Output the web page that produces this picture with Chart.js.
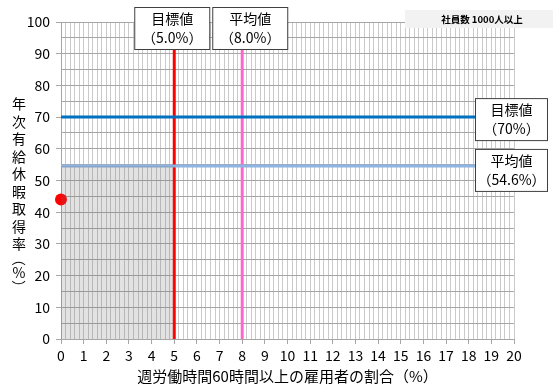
<!DOCTYPE html>
<html>
<head>
<meta charset="utf-8">
<script src="https://cdn.jsdelivr.net/npm/chart.js@4.4.0/dist/chart.umd.min.js"></script>
<style>
  body { margin: 0; background: #fff; }
  #wrap { width: 554px; height: 385px; position: relative; }
</style>
</head>
<body>
<div id="wrap"><canvas id="grafico"></canvas></div>
<script>
// 値
const xRange = [0, 20];
const yRange = [0, 100];
const lineasX = [5.0, 8.0];          // 目標値, 平均値 (週60時間以上の割合)
const lineasY = [70, 54.6];          // 目標値, 平均値 (有給取得率)
const puntoX = [0];
const puntoY = [44];
const etiquetasX = [['目標値', '（5.0%）'], ['平均値', '（8.0%）']];
const etiquetasY = [['目標値', '（70%）'], ['平均値', '（54.6%）']];
const tituloX = '週労働時間60時間以上の雇用者の割合（%）';
const tituloY = ['年', '次', '有', '給', '休', '暇', '取', '得', '率', '（', '%', '）'];
const nota = '社員数 1000人以上';

const fuente = '"Noto Sans CJK JP", "Noto Sans", sans-serif';
const esEntero = v => Math.abs(v - Math.round(v)) < 1e-6;

// Dibujar titulos y cuadros
const extras = {
  id: 'extras',
  afterDraw(chart) {
    const ctx = chart.ctx;
    const x = chart.scales.x, y = chart.scales.y;
    ctx.save();

    // titulo eje Y (vertical)
    ctx.fillStyle = '#000';
    ctx.font = '14px ' + fuente;
    ctx.textAlign = 'center';
    ctx.textBaseline = 'middle';
    tituloY.forEach((c, i) => {
      let py = i < 9 ? 104 + i * 17.5 : 259 + (i - 9) * 14;
      if (c === '（' || c === '）') {
        ctx.save();
        ctx.translate(19, py);
        ctx.rotate(Math.PI / 2);
        ctx.fillText(c, 0, 0);
        ctx.restore();
      } else {
        ctx.fillText(c, 19, py);
      }
    });

    // titulo eje X
    ctx.font = '15px ' + fuente;
    ctx.fillText(tituloX, (x.left + x.right) / 2, 376);

    // cuadros
    function cuadro(l, t, w, h, lineas, dy) {
      ctx.fillStyle = '#fff';
      ctx.fillRect(l, t, w, h);
      ctx.strokeStyle = '#404040';
      ctx.lineWidth = 1;
      ctx.strokeRect(l + 0.5, t + 0.5, w, h);
      ctx.fillStyle = '#000';
      ctx.font = '14px ' + fuente;
      ctx.fillText(lineas[0], l + w / 2 + 0.5, t + h / 2 - dy);
      ctx.fillText(lineas[1], l + w / 2 + 0.5, t + h / 2 + dy);
    }
    const px0 = x.getPixelForValue(lineasX[0]);
    cuadro(px0 - 40, 7, 75, 42, etiquetasX[0], 9.5);
    cuadro(px0 + 38, 7, 75, 42, etiquetasX[1], 9.5);
    lineasY.forEach((v, i) => {
      const py = y.getPixelForValue(v);
      cuadro(475, py - 19 + i * 2, 72, 42, etiquetasY[i], 9.5);
    });

    // nota
    ctx.fillStyle = '#f2f2f2';
    ctx.fillRect(405, 10, 148, 18);
    ctx.fillStyle = '#000';
    ctx.font = 'bold 9.5px ' + fuente;
    ctx.fillText(nota, 482, 19.5);
    ctx.restore();
  }
};

const datasets = [];
// zona sombreada (hasta el 目標値 X y el 平均値 Y)
datasets.push({
  data: [{ x: xRange[0], y: lineasY[1] }, { x: lineasX[0], y: lineasY[1] }],
  showLine: true, borderWidth: 0, pointRadius: 0,
  fill: 'origin', backgroundColor: 'rgba(110,110,110,0.2)'
});
// lineas horizontales
const coloresY = ['#0070c0', '#8db4e2'];
lineasY.forEach((v, i) => datasets.push({
  data: [{ x: xRange[0], y: v }, { x: xRange[1], y: v }],
  showLine: true, borderColor: coloresY[i], borderWidth: 3, pointRadius: 0, fill: false
}));
// lineas verticales
const coloresX = ['#ff0000', '#ff66cc'];
lineasX.forEach((v, i) => datasets.push({
  data: [{ x: v, y: yRange[0] }, { x: v, y: yRange[1] }],
  showLine: true, borderColor: coloresX[i], borderWidth: 3, pointRadius: 0, fill: false
}));
// punto
datasets.push({
  data: puntoX.map((v, i) => ({ x: v, y: puntoY[i] })),
  pointRadius: 6, pointBackgroundColor: '#ff0000', pointBorderWidth: 0, clip: false
});

new Chart(document.getElementById('grafico'), {
  type: 'scatter',
  data: { datasets },
  plugins: [extras],
  options: {
    responsive: true,
    maintainAspectRatio: false,
    animation: false,
    layout: { padding: { top: 22, right: 40, left: 0, bottom: 0 } },
    plugins: { legend: { display: false }, tooltip: { enabled: false } },
    scales: {
      x: {
        type: 'linear', min: xRange[0], max: xRange[1],
        afterFit: s => { s.height = 46; },
        border: { color: '#a6a6a6' },
        grid: {
          color: '#cacaca', lineWidth: 1, tickLength: 5,
          tickColor: c => esEntero(c.tick.value) ? '#a6a6a6' : 'rgba(0,0,0,0)'
        },
        ticks: {
          stepSize: 0.2, autoSkip: false, maxRotation: 0, padding: 3,
          color: '#000', font: { family: fuente, size: 14 },
          callback: v => esEntero(v) ? String(Math.round(v)) : ''
        }
      },
      y: {
        type: 'linear', min: yRange[0], max: yRange[1],
        afterFit: s => { s.width = 61; },
        border: { color: '#a6a6a6' },
        grid: {
          color: '#a6a6a6', lineWidth: 1, tickLength: 5,
          tickColor: c => esEntero(c.tick.value / 10) ? '#a6a6a6' : 'rgba(0,0,0,0)'
        },
        ticks: {
          stepSize: 5, autoSkip: false, padding: 6,
          color: '#000', font: { family: fuente, size: 14 },
          callback: v => esEntero(v / 10) ? String(Math.round(v)) : ''
        }
      }
    }
  }
});
</script>
</body>
</html>
